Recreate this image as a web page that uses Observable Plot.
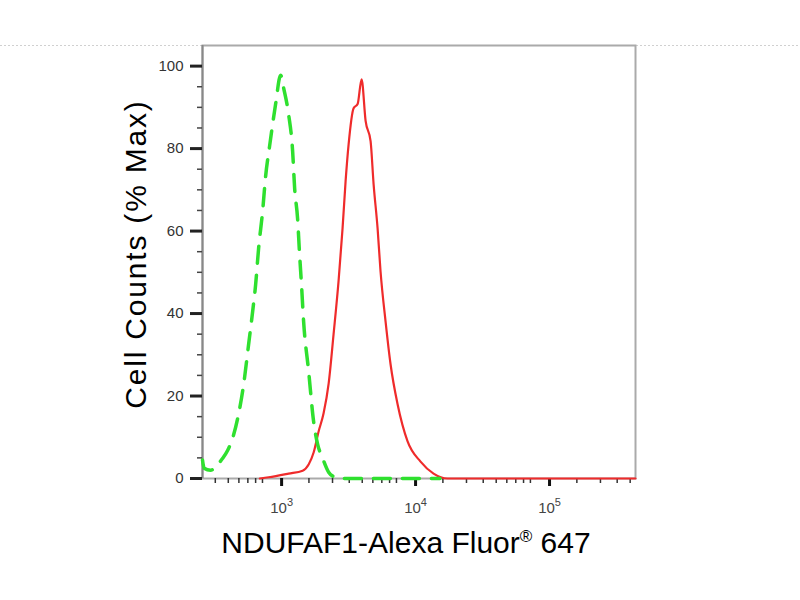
<!DOCTYPE html>
<html><head><meta charset="utf-8">
<script src="https://cdn.jsdelivr.net/npm/d3@7"></script>
<script src="https://cdn.jsdelivr.net/npm/@observablehq/plot@0.6"></script>
<style>body{margin:0;background:#fff}</style>
</head><body><div id="chart"></div>
<script>
// Isotype control (green dashed)
const greenX = [321,330,369,416,454,494,538,587,651,709,760,800,842,902,950,1017,1128,1230,1295,1410,1511,1564,1645,1703,1760,1825,1990,2168,2323,2531,2806,3100,3600,19000];
const greenY = [4.5,2.5,2.0,3.4,4.9,6.8,9.7,14.5,22.8,32.5,40.5,47,55.8,64.8,73.3,80.6,90.8,97.8,94.7,88.3,79.4,70.4,63.1,54.4,47,38.1,26.0,13.8,8.3,4.9,1.5,0.4,0,0];
// NDUFAF1 stained (red solid)
const redX = [860,1000,1410,1795,1990,2168,2362,2573,2806,3055,3330,3566,3756,3957,4310,4618,4945,5297,5771,6077,6507,6849,7464,8134,9179,10900,13620,17030,21670,548000];
const redY = [0,0.3,1.2,1.9,3.4,6.3,11.4,15.8,23,35,48,60.7,72.1,81.1,89.8,90.8,96.8,86.7,81.8,71.4,60.7,50.2,38.1,27.7,18.0,9.0,4.1,1.2,0,0];

const yMajor = [0,20,40,60,80,100];
const yMinor = [5,10,15,25,30,35,45,50,55,65,70,75,85,90,95];
const xMajor = [1e3,1e4,1e5];
const xMinor = [400,500,600,700,800,900,2000,3000,4000,5000,6000,7000,8000,9000,20000,30000,40000,50000,60000,70000,80000,90000,200000,300000,400000,500000];
const xTitle = "NDUFAF1-Alexa Fluor® 647";
const yTitle = "Cell Counts (% Max)";

const green = greenX.map((x,i)=>({x, y: greenY[i]}));
const red = redX.map((x,i)=>({x, y: redY[i]}));

const chart = Plot.plot({
  width: 800, height: 600,
  marginLeft: 202, marginRight: 165, marginTop: 45, marginBottom: 122,
  style: {fontFamily: "'Liberation Sans', Arial, sans-serif", background: "#fff", overflow: "visible"},
  x: {type: "log", domain: [321, 548000], label: null},
  y: {domain: [0, 105], label: null},
  marks: [
    Plot.ruleY([105], {stroke: "#d0d0d0", strokeDasharray: "2,2", insetLeft: -202, insetRight: -165}),
    Plot.frame({stroke: "#aaa", strokeWidth: 2}),
    Plot.ruleX([321], {stroke: "#888", strokeWidth: 2}),
    Plot.axisY(yMinor, {tickSize: 5, text: null, stroke: "#444", strokeWidth: 1.5, label: null}),
    Plot.axisY(yMajor, {tickSize: 12, tickPadding: 7, stroke: "#222", strokeWidth: 3, fontSize: 15, fill: "#333", label: null}),
    Plot.axisX(xMinor, {tickSize: 5, text: null, stroke: "#333", strokeWidth: 1.5, label: null}),
    Plot.axisX(xMajor, {tickSize: 8, tickPadding: 16, stroke: "#111", strokeWidth: 3, fontSize: 15, fill: "#444", dx: 13,
      tickFormat: d => "10^" + Math.round(Math.log10(d)), label: null}),
    Plot.line(red, {x: "x", y: "y", stroke: "#ef2b2b", strokeWidth: 2.2, curve: "monotone-x"}),
    Plot.line(green, {x: "x", y: "y", stroke: "#2fe02f", strokeWidth: 3.5, strokeDasharray: "17,12", curve: "monotone-x"}),
    Plot.text([yTitle], {frameAnchor: "left", dx: -66, dy: -8, rotate: -90, textAnchor: "middle", lineAnchor: "middle", fontSize: 30, fill: "#000"}),
    Plot.text([xTitle], {frameAnchor: "bottom", dx: -13, dy: 65, textAnchor: "middle", lineAnchor: "middle", fontSize: 30, fill: "#000"})
  ]
});
document.getElementById("chart").appendChild(chart);

d3.select(chart).selectAll("text").each(function() {
  const t = d3.select(this);
  const s = t.text();
  if (s === xTitle) {
    t.text(null);
    t.append("tspan").text("NDUFAF1-Alexa Fluor");
    t.append("tspan").attr("font-size", "17px").attr("dy", "-11px").text("®");
    t.append("tspan").attr("dy", "11px").text(" 647");
  } else if (s === yTitle) {
    t.style("letter-spacing", "1.8px");
  } else if (/^10\^\d$/.test(s)) {
    const e = s.slice(3);
    t.text(null);
    t.append("tspan").text("10");
    t.append("tspan").attr("font-size", "11px").attr("dy", "-7px").text(e);
  }
});
</script>
</body></html>
